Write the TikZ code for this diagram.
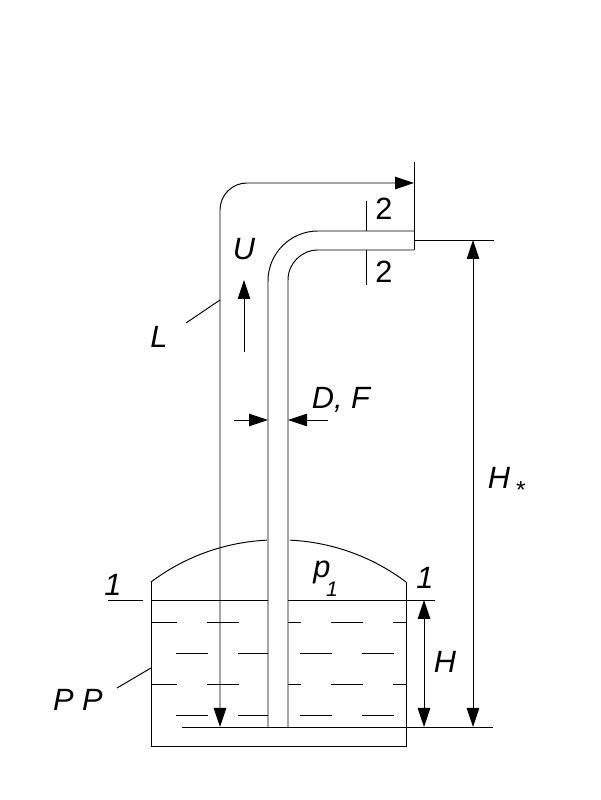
\documentclass[tikz,border=0pt]{standalone}
\usepackage{fontspec}
\setmainfont{Liberation Sans}
\usetikzlibrary{arrows.meta}
\tikzset{
  thinline/.style={line width=0.55pt},
  dimline/.style={thinline,arrows={-Triangle[length=3.8mm,width=2.5mm]}},
  dimboth/.style={thinline,arrows={Triangle[length=3.8mm,width=2.5mm]-Triangle[length=3.8mm,width=2.5mm]}},
  lettering/.style={font=\fontsize{17.5}{19}\selectfont\itshape,inner sep=0pt},
  digit/.style={font=\fontsize{17.5}{19}\selectfont,inner sep=0pt}
}
\begin{document}
\begin{tikzpicture}
        \useasboundingbox (0,0) rectangle (12,16);
        % Draw the tank
        \draw[thinline] (3.02,4.36) -- (3.02,1.08) -- (8.12,1.08) -- (8.12,4.36);
        \draw[thinline] (3.02,4.36) arc (127:92.7:4.18);
        \draw[thinline] (8.12,4.36) arc (53:87.3:4.18);
        % Liquid level and its short dashes
        \draw[thinline] (2.16,4) -- (2.86,4);
        \draw[thinline] (3.02,4) -- (5.36,4);
        \draw[thinline] (5.76,4) -- (8.7,4);
        \draw[thinline] (3.02,3.56) -- (3.54,3.56) (4.14,3.56) -- (4.78,3.56) (5.76,3.56) -- (6.02,3.56) (6.62,3.56) -- (7.26,3.56) (7.86,3.56) -- (8.12,3.56);
        \draw[thinline] (3.52,2.94) -- (4.16,2.94) (4.76,2.94) -- (5.36,2.94) (6,2.94) -- (6.64,2.94) (7.24,2.94) -- (7.88,2.94);
        \draw[thinline] (3.02,2.32) -- (3.54,2.32) (4.14,2.32) -- (4.78,2.32) (5.76,2.32) -- (6.02,2.32) (6.62,2.32) -- (7.26,2.32) (7.86,2.32) -- (8.12,2.32);
        \draw[thinline] (3.52,1.7) -- (4.16,1.7) (4.76,1.7) -- (5.36,1.7) (6,1.7) -- (6.64,1.7) (7.24,1.7) -- (7.88,1.7);
        % Draw the pipe
        \draw[thinline,rounded corners=1cm] (5.36,1.46) -- (5.36,11.38) -- (8.28,11.38);
        \draw[thinline,rounded corners=0.6cm] (5.76,1.46) -- (5.76,11) -- (8.28,11);
        % Outlet plane and datum
        \draw[thinline] (8.28,12.76) -- (8.28,11);
        \draw[thinline] (8.28,11.2) -- (9.88,11.2);
        \draw[thinline] (3.64,1.46) -- (9.86,1.46);
        % Section 2-2
        \draw[thinline] (7.32,11.98) -- (7.32,11.38);
        \draw[thinline] (7.32,11) -- (7.32,10.3);
        \node[digit] (twotop) at (7.68,11.82) {2};
        \node[digit] (twobot) at (7.68,10.56) {2};
        % Pipe length
        \draw[dimboth] (4.4,1.46) -- (4.4,11.8) arc (180:90:0.54) -- (8.28,12.34);
        \draw[thinline] (4.4,10) -- (3.72,9.54);
        \node[lettering] (length) at (3.18,9.26) {L};
        % Velocity
        \draw[dimline] (4.88,8.96) -- (4.88,10.4);
        \node[lettering] (velocity) at (4.88,11.02) {U};
        % Diameter and area
        \draw[dimline] (4.68,7.6) -- (5.36,7.6);
        \draw[dimline] (6.56,7.6) -- (5.76,7.6);
        \node[lettering] (diameter) at (6.82,8) {D, F};
        % Heights
        \draw[dimboth] (9.46,11.2) -- (9.46,1.46);
        \draw[dimboth] (8.48,4) -- (8.48,1.46);
        \node[lettering] (lift) at (9.98,6.44) {H};
        \node[lettering,font=\fontsize{14}{15}\selectfont] (liftstar) at (10.42,6.2) {*};
        \node[lettering] (depth) at (8.9,2.76) {H};
        % Labels in the tank
        \node[lettering] (press) at (6.44,4.56) {p};
        \node[lettering,font=\fontsize{12}{13}\selectfont\itshape] (pressidx) at (6.64,4.22) {1};
        \node[lettering] (oneleft) at (2.26,4.3) {1};
        \node[lettering] (oneright) at (8.5,4.44) {1};
        \draw[thinline] (3.02,2.64) -- (2.34,2.24);
        \node[lettering] (fluid) at (1.56,2) {P P};
      \end{tikzpicture}
\end{document}
